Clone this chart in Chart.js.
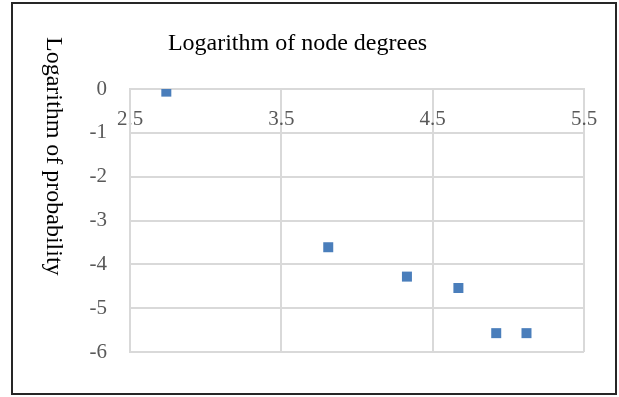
<!DOCTYPE html>
<html>
<head>
<meta charset="utf-8">
<script src="https://cdn.jsdelivr.net/npm/chart.js@4.4.1/dist/chart.umd.min.js"></script>
<style>
  html, body { margin: 0; padding: 0; background: #ffffff; }
  #wrap { width: 619px; height: 397px; }
</style>
</head>
<body>
<div id="wrap"><canvas id="c" width="619" height="397"></canvas></div>
<script>
// Log-log degree distribution
const degreeLog = [2.74, 3.81, 4.33, 4.67, 4.92, 5.12];
const probabilityLog = [-0.06, -3.61, -4.28, -4.54, -5.57, -5.57];

const xTickValues = [2.5, 3.5, 4.5, 5.5];
const yTickValues = [0, -1, -2, -3, -4, -5, -6];

const chartTitle = 'Logarithm of node degrees';
const yAxisTitle = 'Logarithm of probability';

const serif = '"Liberation Serif", "Times New Roman", serif';
const gridColor = '#d9d9d9';
const tickColor = '#595959';

// Outer frame, chart title and the vertical axis title (reads top to bottom)
const decorations = {
  id: 'decorations',
  beforeDraw(chart) {
    const ctx = chart.ctx;
    ctx.save();
    ctx.fillStyle = '#ffffff';
    ctx.fillRect(0, 0, chart.width, chart.height);
    ctx.strokeStyle = '#262626';
    ctx.lineWidth = 2;
    ctx.strokeRect(12, 3, 604, 391);
    ctx.restore();
  },
  afterDraw(chart) {
    const ctx = chart.ctx;
    ctx.save();
    ctx.fillStyle = '#000000';
    ctx.font = '24px ' + serif;
    ctx.textAlign = 'center';
    ctx.textBaseline = 'alphabetic';
    ctx.fillText(chartTitle, 297.5, 50);

    ctx.translate(46.5, 37);
    ctx.rotate(Math.PI / 2);
    ctx.textAlign = 'left';
    ctx.fillText(yAxisTitle, 0, 0);
    ctx.restore();
  }
};

const points = degreeLog.map((x, i) => ({ x: x, y: probabilityLog[i] }));

new Chart(document.getElementById('c'), {
  type: 'scatter',
  data: {
    datasets: [{
      data: points,
      pointStyle: 'rect',
      pointRadius: 7.07,
      pointHoverRadius: 7.07,
      pointBorderWidth: 0,
      backgroundColor: '#4a7ebb',
      borderColor: '#4a7ebb'
    }]
  },
  options: {
    responsive: false,
    animation: false,
    events: [],
    layout: { padding: { left: 0, top: 89, right: 35, bottom: 45 } },
    plugins: {
      legend: { display: false },
      title: { display: false },
      tooltip: { enabled: false }
    },
    scales: {
      x: {
        type: 'linear',
        position: { y: 0 },
        min: 2.5,
        max: 5.5,
        afterBuildTicks(scale) { scale.ticks = xTickValues.map(v => ({ value: v })); },
        afterFit(scale) { scale.height = 0; },
        grid: { color: gridColor, lineWidth: 2, drawTicks: false },
        border: { color: gridColor, width: 2 },
        ticks: {
          color: tickColor,
          font: { family: serif, size: 21 },
          padding: 18,
          maxRotation: 0,
          autoSkip: false,
          callback: v => String(v)
        }
      },
      y: {
        type: 'linear',
        position: 'left',
        min: -6,
        max: 0,
        afterBuildTicks(scale) { scale.ticks = yTickValues.map(v => ({ value: v })); },
        afterFit(scale) { scale.width = 130; },
        grid: { color: gridColor, lineWidth: 2, drawTicks: false },
        border: { color: gridColor, width: 2 },
        ticks: {
          color: tickColor,
          font: { family: serif, size: 21 },
          padding: 23,
          autoSkip: false,
          callback: v => String(v)
        }
      }
    }
  },
  plugins: [decorations]
});
</script>
</body>
</html>
